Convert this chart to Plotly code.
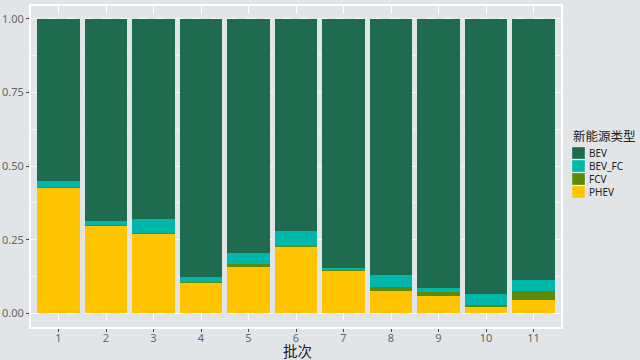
import plotly.graph_objects as go

batches = ["1", "2", "3", "4", "5", "6", "7", "8", "9", "10", "11"]
phev = [0.427, 0.297, 0.271, 0.104, 0.156, 0.227, 0.145, 0.077, 0.058, 0.024, 0.044]
fcv = [0.003, 0.002, 0.003, 0.003, 0.013, 0.002, 0.002, 0.011, 0.014, 0.004, 0.033]
bev_fc = [0.020, 0.016, 0.045, 0.016, 0.035, 0.052, 0.006, 0.041, 0.013, 0.036, 0.035]
bev = [round(1 - a - b - c, 3) for a, b, c in zip(phev, fcv, bev_fc)]

series_names = ["BEV", "BEV_FC", "FCV", "PHEV"]
colors = {"BEV": "#1f6b4f", "BEV_FC": "#00b8a9", "FCV": "#5b8a0c", "PHEV": "#ffc300"}
legend_title = "新能源类型"
x_title = "批次"
BG = "#e1e5e8"
FONT = "Noto Sans, Noto Sans CJK SC, sans-serif"

W, H = 640, 360
ML, MR, MT, MB = 30, 78, 5, 32
PW, PH = W - ML - MR, H - MT - MB


def px_x(p):
    return (p - ML) / PW


def px_y(p):
    return (H - MB - p) / PH


x = list(range(1, len(batches) + 1))
fig = go.Figure()
for name, vals in [("PHEV", phev), ("FCV", fcv), ("BEV_FC", bev_fc), ("BEV", bev)]:
    fig.add_trace(go.Bar(x=x, y=vals, name=name, width=0.9, showlegend=False,
                         marker=dict(color=colors[name], line=dict(width=0))))

shapes = [dict(type="rect", xref="paper", yref="paper", x0=0, x1=1, y0=0, y1=1,
               line=dict(color="white", width=2), fillcolor="rgba(0,0,0,0)", layer="above")]
annotations = [
    dict(text=legend_title, xref="paper", yref="paper", x=px_x(571), y=px_y(136),
         xanchor="left", yanchor="middle", showarrow=False,
         font=dict(size=12.5, color="#222222", family=FONT)),
    dict(text=x_title, xref="paper", yref="paper", x=0.502, y=px_y(351),
         xanchor="center", yanchor="middle", showarrow=False,
         font=dict(size=14.5, color="#222222", family=FONT)),
]
top = 146.5
step = 13
for i, name in enumerate(series_names):
    y0 = top + i * step
    shapes.append(dict(type="rect", xref="paper", yref="paper",
                       x0=px_x(572), x1=px_x(585), y0=px_y(y0 + 12.5), y1=px_y(y0 + 0.5),
                       fillcolor=colors[name], line=dict(color="rgba(255,255,255,0.6)", width=0.5),
                       layer="above"))
    annotations.append(dict(text=name, xref="paper", yref="paper", x=px_x(587),
                            y=px_y(y0 + 6.5), xanchor="left", yanchor="middle",
                            showarrow=False, font=dict(size=10, color="#222222", family=FONT)))

fig.update_layout(
    barmode="stack",
    width=W, height=H,
    margin=dict(l=ML, r=MR, t=MT, b=MB, autoexpand=False),
    paper_bgcolor=BG, plot_bgcolor=BG,
    font=dict(family=FONT, size=11, color="#666666"),
    showlegend=False,
    shapes=shapes,
    annotations=annotations,
)
fig.update_xaxes(
    range=[0.4, 11.6], tickmode="array", tickvals=x, ticktext=batches,
    showgrid=True, gridcolor="rgba(255,255,255,0.9)", griddash="dash", gridwidth=1,
    ticks="outside", ticklen=3, tickcolor="#444444", ticklabelstandoff=-3,
    tickfont=dict(size=11, color="#666666"),
    zeroline=False, showline=False, automargin=False,
)
fig.update_yaxes(
    range=[-0.05, 1.047], tickmode="array", tickvals=[0, 0.25, 0.5, 0.75, 1.0],
    ticktext=["0.00", "0.25", "0.50", "0.75", "1.00"],
    showgrid=True, gridcolor="rgba(255,255,255,0.8)", griddash="dash", gridwidth=1,
    minor=dict(tickvals=[0.125, 0.375, 0.625, 0.875], showgrid=True,
               gridcolor="rgba(255,255,255,0.5)", griddash="dash", ticks=""),
    ticks="outside", ticklen=3, tickcolor="#444444",
    tickfont=dict(size=11, color="#666666"),
    zeroline=False, showline=False, automargin=False,
)
fig.write_html(
    "out.html",
    config={"displayModeBar": False},
    post_script="document.body.style.margin='0';document.body.style.overflow='hidden';"
                "document.body.style.background='" + BG + "';",
)
